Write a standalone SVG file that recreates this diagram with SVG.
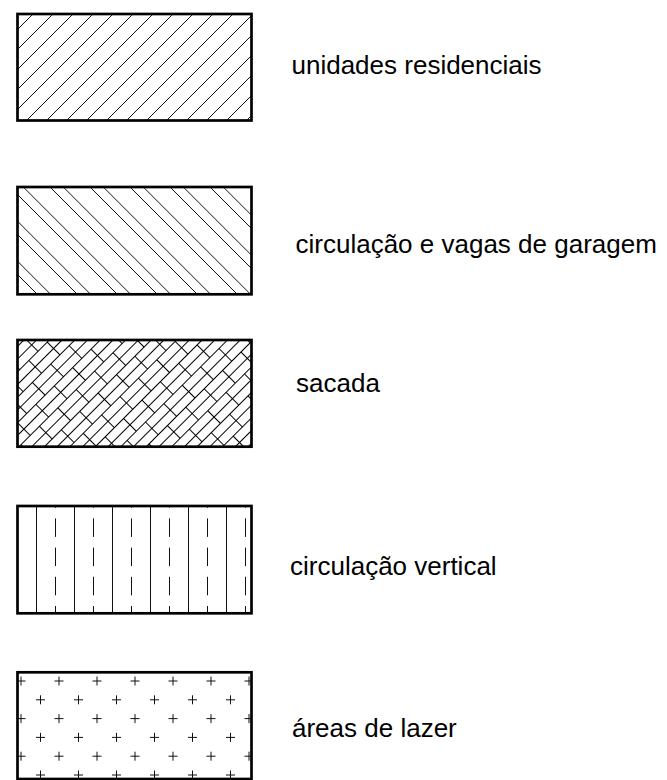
<svg xmlns="http://www.w3.org/2000/svg" width="667" height="780" viewBox="0 0 667 780">
<style>
.frame{fill:none;stroke:#000;stroke-width:2.7}
.hatch{fill:none;stroke:#111;stroke-width:1}
.dash{fill:none;stroke:#111;stroke-width:1;stroke-dasharray:18.5 10.7}
.label{font-family:"Liberation Sans",Arial,sans-serif;font-size:26px;fill:#000}
</style>
<defs>
<clipPath id="c1"><rect x="17.5" y="14" width="234" height="106.5"/></clipPath>
<clipPath id="c2"><rect x="17.5" y="187" width="234" height="107.3"/></clipPath>
<clipPath id="c3"><rect x="17.5" y="340" width="234" height="106.7"/></clipPath>
<clipPath id="c4"><rect x="17.5" y="506" width="234" height="107.3"/></clipPath>
<clipPath id="c5"><rect x="17.5" y="672.3" width="234" height="106.7"/></clipPath>
<pattern id="sacadaPat" patternUnits="userSpaceOnUse" width="26" height="36" patternTransform="translate(17.5 340) rotate(-45)">
<path fill="none" stroke="#000" stroke-width="1" d="M-1 4.5H27M-1 13.5H27M-1 22.5H27M-1 31.5H27M6.5 4.5V22.5M19.5 22.5V37M19.5 -1V4.5"/>
</pattern>
<path id="plus" class="hatch" d="M-4.5 0H4.5M0 -4.5V4.5"/>
</defs>

<g id="legend-unidades">
<g clip-path="url(#c1)">
<path class="hatch" d="M-74 121L34 13M-54 121L54 13M-34 121L74 13M-14 121L94 13M6 121L114 13M26 121L134 13M46 121L154 13M66 121L174 13M86 121L194 13M106 121L214 13M126 121L234 13M146 121L254 13M166 121L274 13M186 121L294 13M206 121L314 13M226 121L334 13M246 121L354 13"/>
</g>
<rect class="frame" x="17.5" y="14" width="234" height="106.5"/>
<text class="label" x="291.5" y="74">unidades residenciais</text>
</g>

<g id="legend-circulacao">
<g clip-path="url(#c2)">
<path class="hatch" d="M-71 186L38 295M-31 186L78 295M9 186L118 295M49 186L158 295M89 186L198 295M129 186L238 295M169 186L278 295M209 186L318 295M249 186L358 295M-57.7 186L51.3 295M-17.7 186L91.3 295M22.3 186L131.3 295M62.3 186L171.3 295M102.3 186L211.3 295M142.3 186L251.3 295M182.3 186L291.3 295M222.3 186L331.3 295"/>
</g>
<rect class="frame" x="17.5" y="187" width="234" height="107.3"/>
<text class="label" x="295.5" y="253">circulação e vagas de garagem</text>
</g>

<g id="legend-sacada">
<rect x="17.5" y="340" width="234" height="106.7" fill="url(#sacadaPat)"/>
<rect class="frame" x="17.5" y="340" width="234" height="106.7"/>
<text class="label" x="296" y="392">sacada</text>
</g>

<g id="legend-vertical">
<g clip-path="url(#c4)">
<path class="hatch" d="M36.5 506V614M74.5 506V614M112.5 506V614M150.5 506V614M188.5 506V614M226.5 506V614"/>
<path class="dash" d="M55.5 489.2V614M93.5 489.2V614M131.5 489.2V614M169.5 489.2V614M207.5 489.2V614M245.5 489.2V614"/>
</g>
<rect class="frame" x="17.5" y="506" width="234" height="107.3"/>
<text class="label" x="290" y="575">circulação vertical</text>
</g>

<g id="legend-lazer">
<g clip-path="url(#c5)">
<use href="#plus" x="21" y="681"/><use href="#plus" x="59" y="681"/><use href="#plus" x="97" y="681"/><use href="#plus" x="135" y="681"/><use href="#plus" x="173" y="681"/><use href="#plus" x="211" y="681"/><use href="#plus" x="249" y="681"/>
<use href="#plus" x="40.5" y="699.8"/><use href="#plus" x="78.5" y="699.8"/><use href="#plus" x="116.5" y="699.8"/><use href="#plus" x="154.5" y="699.8"/><use href="#plus" x="192.5" y="699.8"/><use href="#plus" x="230.5" y="699.8"/>
<use href="#plus" x="21" y="718.6"/><use href="#plus" x="59" y="718.6"/><use href="#plus" x="97" y="718.6"/><use href="#plus" x="135" y="718.6"/><use href="#plus" x="173" y="718.6"/><use href="#plus" x="211" y="718.6"/><use href="#plus" x="249" y="718.6"/>
<use href="#plus" x="40.5" y="737.4"/><use href="#plus" x="78.5" y="737.4"/><use href="#plus" x="116.5" y="737.4"/><use href="#plus" x="154.5" y="737.4"/><use href="#plus" x="192.5" y="737.4"/><use href="#plus" x="230.5" y="737.4"/>
<use href="#plus" x="21" y="756.2"/><use href="#plus" x="59" y="756.2"/><use href="#plus" x="97" y="756.2"/><use href="#plus" x="135" y="756.2"/><use href="#plus" x="173" y="756.2"/><use href="#plus" x="211" y="756.2"/><use href="#plus" x="249" y="756.2"/>
<use href="#plus" x="40.5" y="775"/><use href="#plus" x="78.5" y="775"/><use href="#plus" x="116.5" y="775"/><use href="#plus" x="154.5" y="775"/><use href="#plus" x="192.5" y="775"/><use href="#plus" x="230.5" y="775"/>
</g>
<rect class="frame" x="17.5" y="672.3" width="234" height="106.7"/>
<text class="label" x="292" y="737">áreas de lazer</text>
</g>
</svg>
